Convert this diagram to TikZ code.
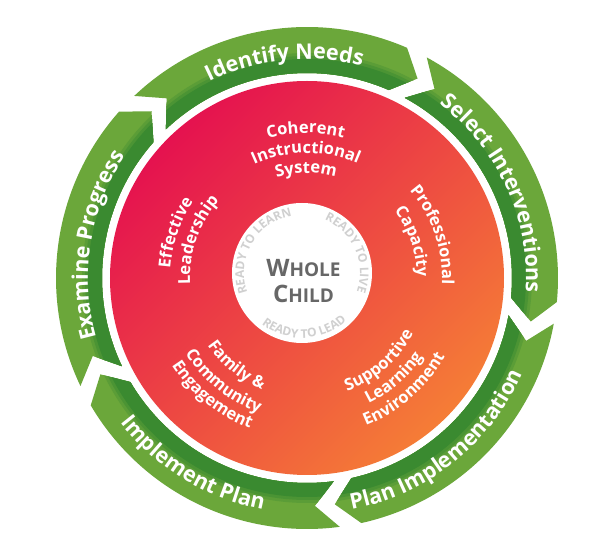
\documentclass[tikz,border=0pt]{standalone}
\usepackage{fontspec}
\setmainfont{Open Sans}
\usetikzlibrary{decorations.text}
\definecolor{glight}{HTML}{6BA73A}
\definecolor{gdark}{HTML}{3A8A30}
\definecolor{rpink}{HTML}{E5124F}
\definecolor{rmid}{HTML}{F1505C}
\definecolor{rorange}{HTML}{F57D36}
\definecolor{wctext}{HTML}{676767}
\definecolor{ringtext}{HTML}{D0D0D0}
\newcommand\cwtext[5]{%
  \pgfmathsetmacro\myA{#2+#3}\pgfmathsetmacro\myB{#2-#3}%
  \path[decorate,decoration={text along path,text align=center,text={|#4|#5}}]
    (\myA:#1) arc[start angle=\myA,end angle=\myB,radius=#1];}
\newcommand\ccwtext[5]{%
  \pgfmathsetmacro\myA{#2-#3}\pgfmathsetmacro\myB{#2+#3}%
  \path[decorate,decoration={text along path,text align=center,text={|#4|#5}}]
    (\myA:#1) arc[start angle=\myA,end angle=\myB,radius=#1];}
\newcommand\gfmt{\fontsize{21.5}{22}\selectfont\bfseries\color{white}}
\newcommand\rfmt{\fontsize{16.5}{17}\selectfont\bfseries\color{white}}
\newcommand\wfmt{\fontsize{12}{12}\selectfont\bfseries\color{ringtext}}
\begin{document}
\begin{tikzpicture}[x=1pt,y=1pt]
\useasboundingbox (-307,-270) rectangle (293,278);
\fill[white] (-307,-270) rectangle (293,278);
% green chevron ring
\foreach \ta/\hb in {132/60,60/-12,-12/-84,-84/-156,-156/-228}{
  \pgfmathsetmacro\myOA{\ta+1.5}
  \pgfmathsetmacro\myOB{\hb+6.5}
  \pgfmathsetmacro\myT{\hb+1}
  \pgfmathsetmacro\myN{\ta-4}
  \begin{scope}
    \clip (\myOA:251) arc[start angle=\myOA,end angle=\myOB,radius=251]
      -- (\myT:228) -- (\myOB:205)
      arc[start angle=\myOB,end angle=\myOA,radius=205]
      -- (\myN:228) -- cycle;
    \fill[glight] (0,0) circle (256);
    \fill[gdark!33!glight] (0,0) circle (225);
    \fill[gdark!66!glight] (0,0) circle (222);
    \fill[gdark] (0,0) circle (219);
  \end{scope}
}
% red disc
\shade[top color=rpink,middle color=rmid,bottom color=rorange,shading angle=45] (0,0) circle (197);
% white centre
\fill[white] (-5,5) circle (70);
% green labels
\cwtext{219}{96}{40}{\gfmt}{Identify Needs}
\cwtext{219}{24.5}{40}{\gfmt}{Select Interventions}
\ccwtext{236}{-51.5}{40}{\gfmt}{Plan Implementation}
\ccwtext{236}{-121.5}{40}{\gfmt}{Implement Plan}
\cwtext{219}{171}{40}{\gfmt}{Examine Progress}
% red labels
\cwtext{145}{90.5}{40}{\rfmt}{Coherent}
\cwtext{125}{90.5}{40}{\rfmt}{Instructional}
\cwtext{105}{90.5}{40}{\rfmt}{System}
\cwtext{135}{19}{40}{\rfmt}{Professional}
\cwtext{110}{19}{40}{\rfmt}{Capacity}
\cwtext{137}{161}{40}{\rfmt}{Effective}
\cwtext{117}{161}{40}{\rfmt}{Leadership}
\ccwtext{120}{-129}{40}{\rfmt}{Family {\&}}
\ccwtext{143}{-129}{40}{\rfmt}{Community}
\ccwtext{161}{-129}{40}{\rfmt}{Engagement}
\ccwtext{120}{-49}{40}{\rfmt}{Supportive}
\ccwtext{140}{-49}{40}{\rfmt}{Learning}
\ccwtext{159}{-49}{40}{\rfmt}{Environment}
% white circle ring texts
\begin{scope}[shift={(-5,5)}]
\cwtext{58}{150}{60}{\wfmt}{READY TO LEARN}
\cwtext{58}{24}{60}{\wfmt}{READY TO LIVE}
\ccwtext{65}{-87.5}{60}{\wfmt}{READY TO LEAD}
\end{scope}
\node[anchor=base,text=wctext,font=\bfseries,inner sep=0] (whole) at (-3.5,1)
  {{\fontsize{24}{24}\selectfont W}{\fontsize{19}{19}\selectfont HOLE}};
\node[anchor=base,text=wctext,font=\bfseries,inner sep=0] (child) at (-3.5,-25)
  {{\fontsize{24}{24}\selectfont C}{\fontsize{19}{19}\selectfont HILD}};
\end{tikzpicture}
\end{document}
